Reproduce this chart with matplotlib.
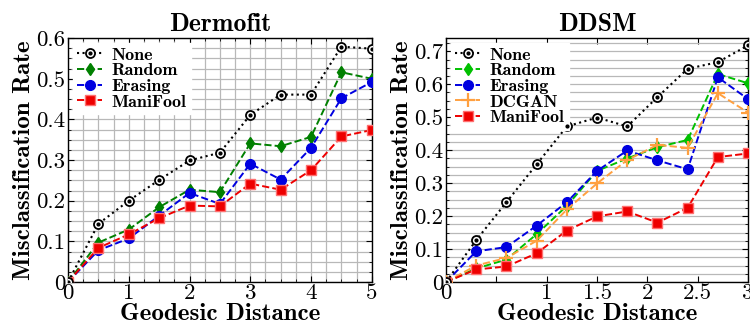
import matplotlib
matplotlib.use("Agg")
import matplotlib.pyplot as plt
from matplotlib.lines import Line2D
import numpy as np

plt.rcParams['font.family'] = ['cmr10', 'DejaVu Serif']
plt.rcParams['axes.formatter.use_mathtext'] = True
plt.rcParams['mathtext.fontset'] = 'cm'

# ---- Dermofit data ----
derm_x = [0, 0.5, 1, 1.5, 2, 2.5, 3, 3.5, 4, 4.5, 5]
derm_none = [0, 0.143, 0.200, 0.251, 0.299, 0.318, 0.411, 0.461, 0.461, 0.579, 0.574]
derm_random = [0, 0.097, 0.129, 0.184, 0.227, 0.221, 0.341, 0.334, 0.357, 0.516, 0.500]
derm_erasing = [0, 0.078, 0.107, 0.163, 0.219, 0.192, 0.291, 0.252, 0.330, 0.452, 0.492]
derm_manifool = [0, 0.084, 0.117, 0.157, 0.188, 0.186, 0.242, 0.227, 0.275, 0.358, 0.374]
derm_xticks = [0, 1, 2, 3, 4, 5]
derm_xticklabels = ['0', '1', '2', '3', '4', '5']
derm_yticks = [0, 0.1, 0.2, 0.3, 0.4, 0.5, 0.6]
derm_yticklabels = ['0', '0.1', '0.2', '0.3', '0.4', '0.5', '0.6']

# ---- DDSM data ----
ddsm_x = [0, 0.3, 0.6, 0.9, 1.2, 1.5, 1.8, 2.1, 2.4, 2.7, 3.0]
ddsm_none = [0, 0.127, 0.242, 0.357, 0.472, 0.499, 0.472, 0.561, 0.647, 0.667, 0.718]
ddsm_random = [0, 0.041, 0.068, 0.145, 0.231, 0.337, 0.375, 0.409, 0.431, 0.631, 0.603]
ddsm_erasing = [0, 0.093, 0.106, 0.171, 0.242, 0.337, 0.399, 0.369, 0.342, 0.621, 0.555]
ddsm_dcgan = [0, 0.050, 0.073, 0.125, 0.220, 0.299, 0.370, 0.416, 0.407, 0.573, 0.514]
ddsm_manifool = [0, 0.038, 0.047, 0.087, 0.156, 0.199, 0.214, 0.180, 0.225, 0.379, 0.390]
ddsm_xticks = [0, 0.5, 1, 1.5, 2, 2.5, 3]
ddsm_xticklabels = ['0', '', '1', '1.5', '2', '2.5', '3']
ddsm_yticks = [0, 0.1, 0.2, 0.3, 0.4, 0.5, 0.6, 0.7]
ddsm_yticklabels = ['0', '0.1', '0.2', '0.3', '0.4', '0.5', '0.6', '0.7']

BOLD = 'cmb10'
GRID = '#b8b8b8'
TICK_FS = 16.5
LABEL_FS = 18
TITLE_FS = 18.5
LEG_FS = 13

fig = plt.figure(figsize=(7.5, 3.3), dpi=100)
ax1 = fig.add_axes([0.0907, 0.1455, 0.405, 0.739])
ax2 = fig.add_axes([0.5947, 0.1455, 0.4027, 0.739])


def plot_none(ax, x, y):
    ax.plot(x, y, color='black', ls=':', lw=1.5, marker='o', ms=6.5,
            mfc='white', mec='black', mew=1.3, zorder=5)
    ax.plot(x, y, ls='none', marker='o', ms=2, color='black', zorder=6)


def none_handle():
    return (Line2D([], [], color='black', ls=':', lw=1.5, marker='o', ms=6.5,
                   mfc='white', mec='black', mew=1.3),
            Line2D([], [], ls='none', marker='o', ms=2, color='black'))


def style(ax, xlim, ylim, xticks, xtl, yticks, ytl, title, vgrid):
    ax.set_xlim(*xlim)
    ax.set_ylim(*ylim)
    ax.set_xticks(xticks)
    ax.set_xticklabels(xtl)
    ax.set_yticks(yticks)
    ax.set_yticklabels(ytl)
    ax.set_yticks(np.arange(0, ylim[1] + 1e-9, 0.025), minor=True)
    if vgrid:
        ax.set_xticks(np.arange(0, xlim[1] + 1e-9, 0.25), minor=True)
        ax.grid(True, which='both', axis='both', color=GRID, lw=0.9)
    else:
        ax.grid(True, which='both', axis='y', color=GRID, lw=0.9)
    ax.set_axisbelow(True)
    ax.tick_params(which='both', direction='in', top=True, right=True,
                   labelsize=TICK_FS, pad=2)
    ax.tick_params(axis='x', which='both', pad=1)
    ax.tick_params(which='major', length=4)
    ax.tick_params(which='minor', length=2.5)
    for s in ax.spines.values():
        s.set_linewidth(1.0)
    ax.set_title(title, fontfamily=BOLD, fontsize=TITLE_FS, pad=5)
    ax.set_xlabel('Geodesic Distance', fontfamily=BOLD, fontsize=LABEL_FS, labelpad=0)
    ax.set_ylabel('Misclassification Rate', fontfamily=BOLD, fontsize=LABEL_FS, labelpad=1)


leg_kw = dict(loc='upper left', prop={'family': BOLD, 'size': LEG_FS}, handlelength=1.4,
              labelspacing=0.0, borderpad=0.25, handletextpad=0.5, borderaxespad=0.25,
              fancybox=False, edgecolor='white', framealpha=1)

# Left
plot_none(ax1, derm_x, derm_none)
l_r, = ax1.plot(derm_x, derm_random, color='#008000', ls='--', lw=1.4, marker='d', ms=6.5, zorder=4)
l_e, = ax1.plot(derm_x, derm_erasing, color='#0000e0', ls='--', lw=1.4, marker='o', ms=7, zorder=4)
l_m, = ax1.plot(derm_x, derm_manifool, color='#ee0000', ls='--', lw=1.4, marker='s', ms=7,
                mec='#ff7070', zorder=4)
style(ax1, (0, 5), (0, 0.6), derm_xticks, derm_xticklabels, derm_yticks, derm_yticklabels,
      'Dermofit', True)
ax1.legend([none_handle(), l_r, l_e, l_m], ['None', 'Random', 'Erasing', 'ManiFool'], **leg_kw)

# Right
plot_none(ax2, ddsm_x, ddsm_none)
r_r, = ax2.plot(ddsm_x, ddsm_random, color='#00c000', ls='--', lw=1.4, marker='d', ms=6.5, zorder=4)
r_e, = ax2.plot(ddsm_x, ddsm_erasing, color='#0000e0', ls='--', lw=1.4, marker='o', ms=7, zorder=4)
r_d, = ax2.plot(ddsm_x, ddsm_dcgan, color='#ffa040', ls='--', lw=1.4, marker='+', ms=10, mew=1.6, zorder=4)
r_m, = ax2.plot(ddsm_x, ddsm_manifool, color='#ee0000', ls='--', lw=1.4, marker='s', ms=7,
                mec='#ff7070', zorder=4)
style(ax2, (0, 3), (0, 0.74), ddsm_xticks, ddsm_xticklabels, ddsm_yticks, ddsm_yticklabels,
      'DDSM', False)
ax2.legend([none_handle(), r_r, r_e, r_d, r_m], ['None', 'Random', 'Erasing', 'DCGAN', 'ManiFool'],
           **leg_kw)

fig.savefig('out.png', dpi=100)
